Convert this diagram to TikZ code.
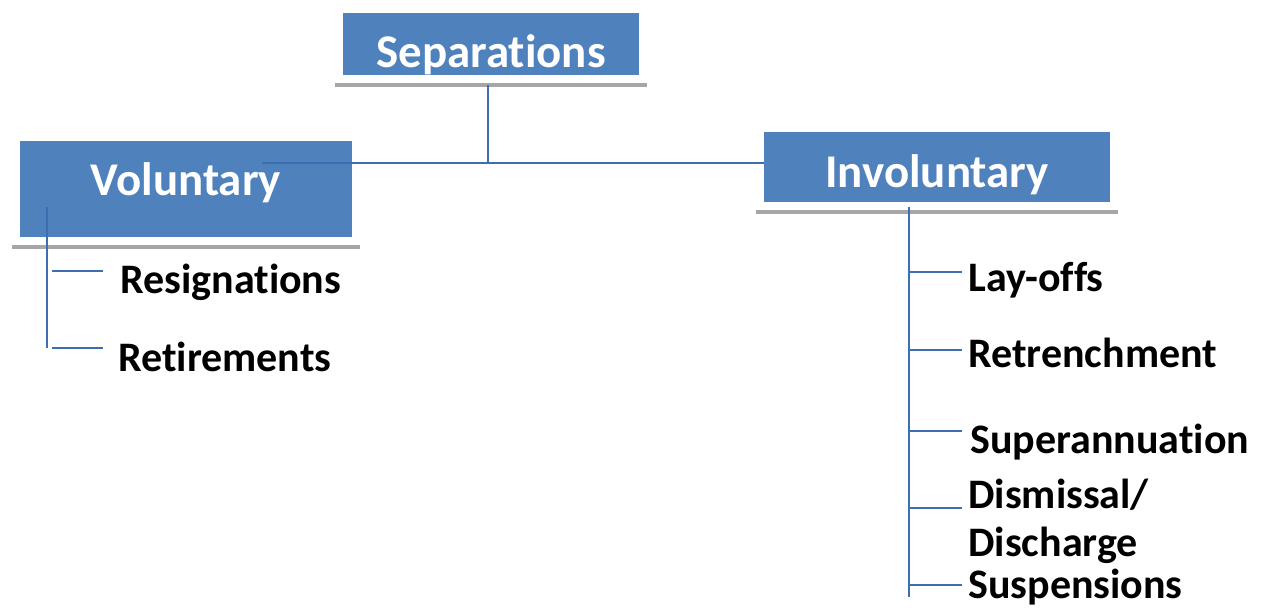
\documentclass[tikz,border=0pt]{standalone}
\usepackage{fontspec}
\setmainfont[Ligatures=NoCommon]{Carlito}
\usetikzlibrary{calc}
\definecolor{boxblue}{RGB}{79,129,189}
\definecolor{lineblue}{RGB}{62,110,178}
\definecolor{shadegray}{RGB}{166,166,166}

\begin{document}
\begin{tikzpicture}[x=0.02cm, y=-0.02cm,
    box/.style={fill=boxblue, text=white, inner sep=0pt, text depth=0pt,
      font=\fontsize{26.7}{32}\selectfont\bfseries},
    item/.style={anchor=base west, inner sep=0pt, font=\fontsize{23.9}{28}\selectfont\bfseries},
    link/.style={draw=lineblue, line width=0.85pt},
    shade/.style={draw=shadegray, line width=2.3pt}]
  \useasboundingbox (0,0) rectangle (1261,609);

  \node[box, minimum width=5.92cm, minimum height=1.24cm, text height=0.92cm] (sep) at (491,44) {Separations};
  \node[box, minimum width=6.64cm, minimum height=1.92cm, text height=0.24cm] (vol) at (186,189) {Voluntary};
  \node[box, minimum width=6.92cm, minimum height=1.40cm, text height=0.80cm] (inv) at (937,167) {Involuntary};
  \foreach \b in {sep, vol, inv}
    \draw[shade] ($(\b.south west)+(-8,10)$) -- ($(\b.south east)+(8,10)$);

  \node[item] (res) at (120,293) {Resignations};
  \node[item] (ret) at (118,371) {Retirements};
  \node[item] (lay) at (968,291) {Lay-offs};
  \node[item] (retr) at (968,367) {Retrenchment};
  \node[item] (sup) at (970,453) {Superannuation};
  \node[item] (dis) at (968,508) {Dismissal/};
  \node[item] (dis2) at (968,556) {Discharge};
  \node[item] (susp) at (968,598) {Suspensions};

  \coordinate (hub) at (488,163);
  \coordinate (vol-in) at (262,163);
  \draw[link] (hub) -- ($(hub |- sep.south)+(0,10)$);
  \draw[link] (vol-in) -- (vol-in -| inv.west);

  \coordinate (vol-trunk) at (47,207);
  \draw[link] (vol-trunk) -- ++(0,141);
  \foreach \n/\y in {res/271, ret/348} {
    \coordinate (\n-tip) at (103,\y);
    \draw[link] ($(vol-trunk |- \n-tip)+(5,0)$) -- (\n-tip);
  }

  \coordinate (inv-trunk) at (909,207);
  \draw[link] (inv-trunk) -- ++(0,390);
  \foreach \n/\y in {lay/272, retr/350, sup/431, dis/508, susp/585} {
    \coordinate (\n-tip) at (962,\y);
    \draw[link] (inv-trunk |- \n-tip) -- (\n-tip);
  }
\end{tikzpicture}
\end{document}
